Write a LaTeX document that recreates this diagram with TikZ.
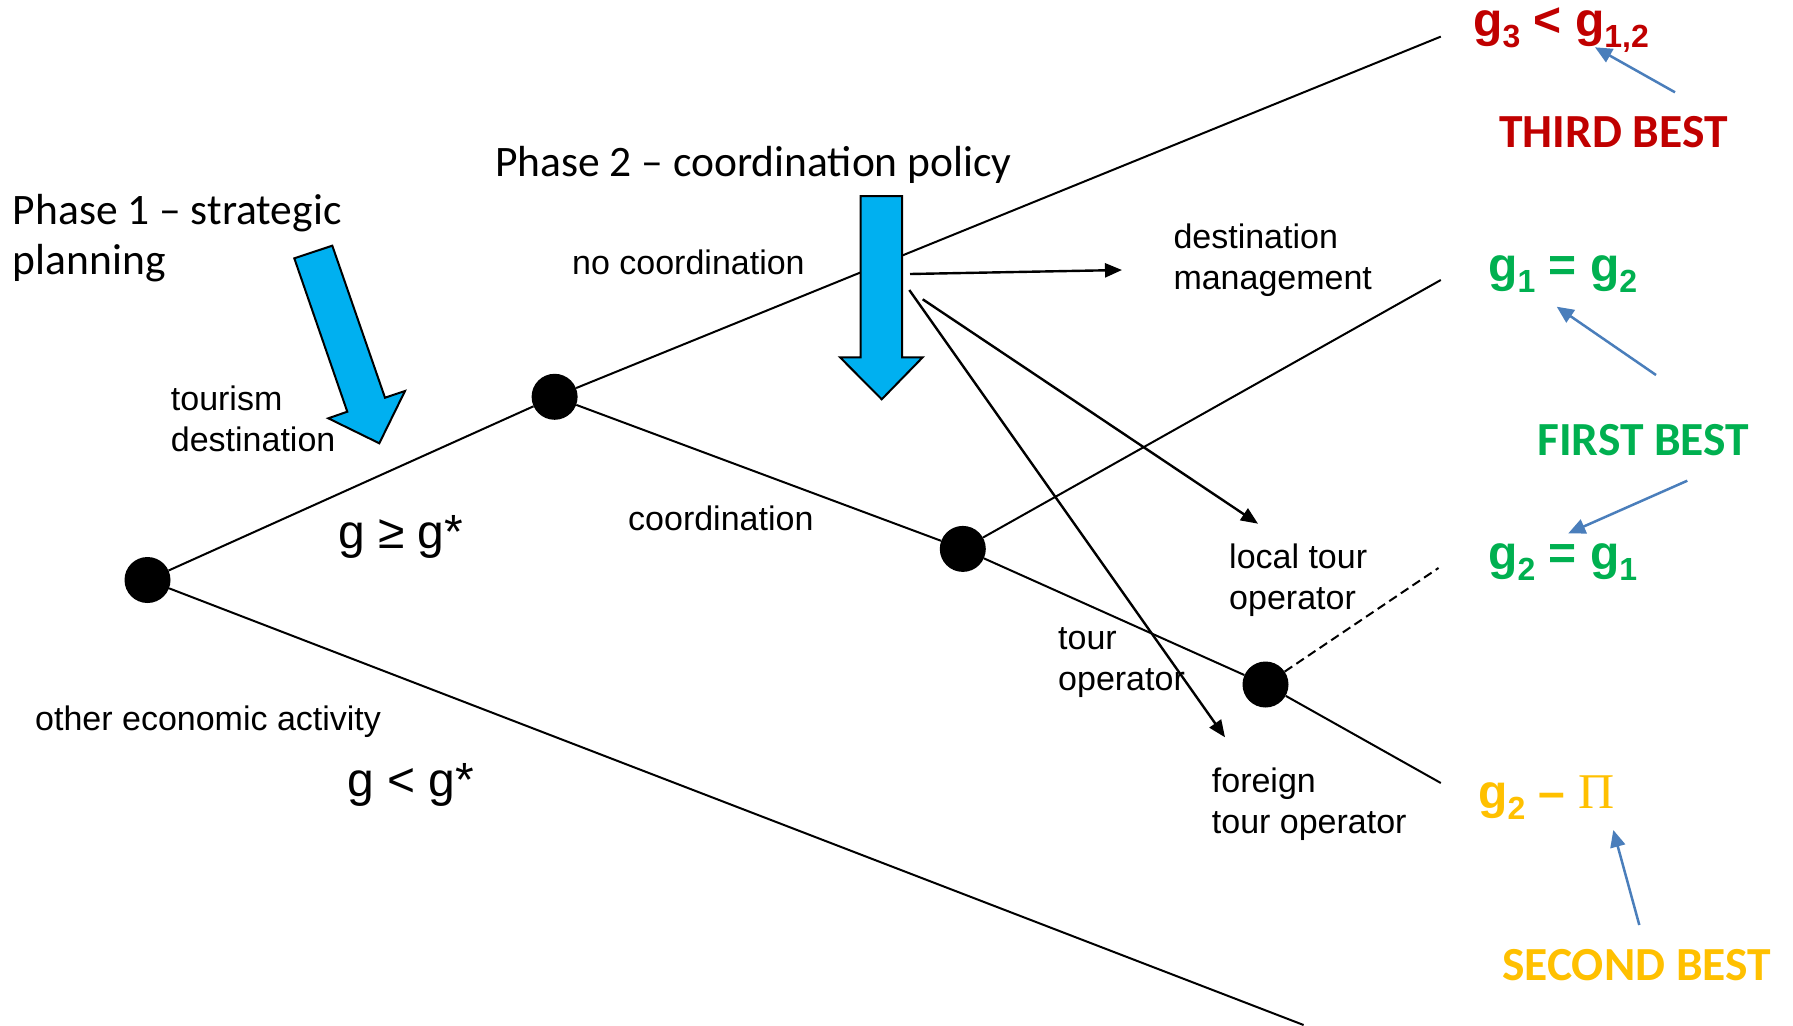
\documentclass[tikz,border=0pt]{standalone}
\usepackage{fontspec}
\setmainfont{Liberation Sans}
\newfontfamily\calibri{Carlito}
\newfontfamily\serifgr{Liberation Serif}
\usetikzlibrary{arrows.meta}
\definecolor{cyanfill}{RGB}{0,176,240}
\definecolor{ptrblue}{RGB}{74,126,187}
\definecolor{darkred}{RGB}{192,0,0}
\definecolor{grn}{RGB}{0,176,80}
\definecolor{gold}{RGB}{255,192,0}
\newcommand\lowidx[1]{\raisebox{-11pt}{\fontsize{32}{32}\selectfont #1}}
\begin{document}
\begin{tikzpicture}[x=1pt,y=-1pt,
 dot/.style={circle,fill=black,minimum size=46pt,inner sep=0pt},
 branch/.style={line width=2pt},
 lbl/.style={font=\fontsize{34}{41}\selectfont,align=left,inner sep=0pt,anchor=base west},
 phase/.style={font=\calibri\fontsize{43.5}{50}\selectfont,align=left,inner sep=0pt,anchor=base west},
 cond/.style={font=\fontsize{48}{56}\selectfont,inner sep=0pt,anchor=base west},
 res/.style={font=\bfseries\fontsize{48}{56}\selectfont,inner sep=0pt,anchor=base west},
 best/.style={font=\calibri\bfseries\fontsize{47.5}{56}\selectfont,inner sep=0pt,anchor=base west},
 bigarrow/.style={fill=cyanfill,draw=black,line width=2pt,line join=miter},
 ptr/.style={ptrblue,line width=2.5pt,-{Triangle[length=17pt,width=15pt]}},
 act/.style={line width=2.4pt,-{Triangle[length=17pt,width=14pt]}}
]
\useasboundingbox (0,0) rectangle (1793,1025);

% decision nodes
\node[dot] (A) at (147.5,580) {};
\node[dot] (B) at (554.6,396.8) {};
\node[dot] (C) at (962.8,548.9) {};
\node[dot] (D) at (1265.5,684.5) {};

% branch ends
\coordinate (Etop) at (1440.8,36.6);
\coordinate (Ec) at (1440.8,280);
\coordinate (Ed) at (1438.5,568);
\coordinate (Elow) at (1440.8,783);
\coordinate (Ebot) at (1303.6,1025);

\draw[branch] (A) -- (B);
\draw[branch] (A) -- (Ebot);
\draw[branch] (B) -- (Etop);
\draw[branch] (B) -- (C);
\draw[branch] (C) -- (Ec);
\draw[branch] (C) -- (D);
\draw[branch] (D) -- (Elow);
\draw[branch,dash pattern=on 9pt off 5pt] (D) -- (Ed);

% big blue arrows
\draw[bigarrow] (294.3,258.3) -- (332.3,245.7) -- (385,397.7) -- (405,391) -- (379.3,443.3) -- (328.3,418.3) -- (347.3,411.7) -- cycle;
\draw[bigarrow] (860.7,196) -- (902,196) -- (902,357.3) -- (922.7,357.3) -- (881.7,399.3) -- (840,357.3) -- (860.7,357.3) -- cycle;

% action arrows
\coordinate (s1) at (910,274);
\coordinate (t1) at (1122,270);
\coordinate (s2) at (922.7,299.3);
\coordinate (t2) at (1258,523.7);
\coordinate (s3) at (909.3,290);
\coordinate (t3) at (1225,737.3);
\draw[act] (s1) -- (t1);
\draw[act] (s2) -- (t2);
\draw[act] (s3) -- (t3);

% labels (base anchor = baseline of the last line)
\node[phase] (ph1) at (12.7,274) {Phase 1 – strategic\\planning};
\node[phase] (ph2) at (495,176) {Phase 2 – coordination policy};
\node[lbl] (tour) at (170.7,451.7) {tourism\\destination};
\node[lbl] (nocoord) at (572,274) {no coordination};
\node[lbl] (destm) at (1173.3,289.3) {destination\\management};
\node[lbl] (coord) at (628,530) {coordination};
\node[lbl] (local) at (1229,609) {local tour\\operator};
\node[lbl] (touro) at (1058,690) {tour\\operator};
\node[lbl] (foreign) at (1211.7,833) {foreign\\tour operator};
\node[lbl] (other) at (35,730) {other economic activity};
\node[cond] (ge) at (338,548.5) {g ≥ g*};
\node[cond] (lt) at (347,796.7) {g < g*};

% results
\node[res,text=darkred] (r3) at (1473,37) {g\lowidx{3} < g\lowidx{1,2}};
\node[res,text=grn] (r1) at (1488,281) {g\lowidx{1} = g\lowidx{2}};
\node[res,text=grn] (r2) at (1488,569) {g\lowidx{2} = g\lowidx{1}};
\node[res,text=gold] (r4) at (1478,808) {g\lowidx{2} – {\serifgr\mdseries\fontsize{50}{56}\selectfont Π}};

\node[best,text=darkred] (tb) at (1499,147) {THIRD BEST};
\node[best,text=grn] (fb) at (1537,455) {FIRST BEST};
\node[best,text=gold] (sb) at (1502,980) {SECOND BEST};

% pointer arrows
\coordinate (p1s) at (1675,92.3);
\coordinate (p1t) at (1595,47.3);
\coordinate (p2s) at (1656,375);
\coordinate (p2t) at (1556.7,306.7);
\coordinate (p3s) at (1687.3,480.7);
\coordinate (p3t) at (1568.3,533.3);
\coordinate (p4s) at (1639.3,925);
\coordinate (p4t) at (1613.3,830);
\draw[ptr] (p1s) -- (p1t);
\draw[ptr] (p2s) -- (p2t);
\draw[ptr] (p3s) -- (p3t);
\draw[ptr] (p4s) -- (p4t);
\end{tikzpicture}
\end{document}
